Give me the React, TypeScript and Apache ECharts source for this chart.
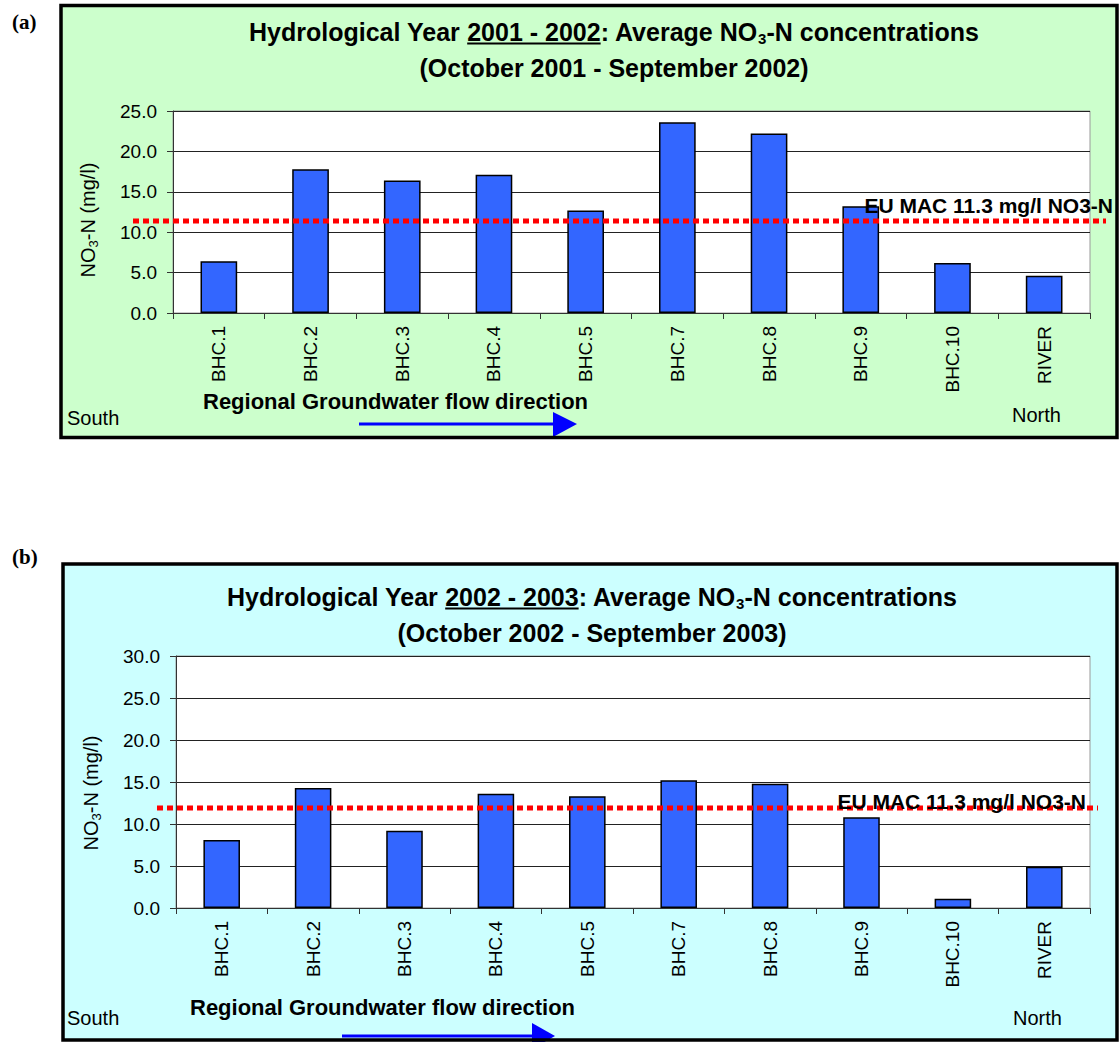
import React, { useEffect, useRef } from "react";
import * as echarts from "echarts";

const categories = ["BHC.1", "BHC.2", "BHC.3", "BHC.4", "BHC.5", "BHC.7", "BHC.8", "BHC.9", "BHC.10", "RIVER"];
const valuesA = [6.4, 17.8, 16.4, 17.1, 12.7, 23.6, 22.2, 13.2, 6.2, 4.6];
const valuesB = [8.1, 14.3, 9.2, 13.6, 13.3, 15.2, 14.8, 10.8, 1.1, 4.9];
const yMaxA = 25;
const yMaxB = 30;
const yInterval = 5;
const macLineA = 11.4;
const macLineB = 11.9;
const macLabel = "EU MAC 11.3 mg/l NO3-N";
const yearA = "2001 - 2002";
const yearB = "2002 - 2003";
const periodA = "(October 2001 - September 2002)";
const periodB = "(October 2002 - September 2003)";

const FONT = "'Liberation Sans', Arial, sans-serif";
const TITLE_SIZE = 25;
const SUB_SIZE = 15;

let measureCtx: CanvasRenderingContext2D | null = null;
function measure(str: string, font: string): number {
  if (!measureCtx) measureCtx = document.createElement("canvas").getContext("2d");
  if (!measureCtx) return str.length * 10;
  measureCtx.font = font;
  return measureCtx.measureText(str).width;
}

function axisPair(gridIndex: number, max: number) {
  const x = {
    type: "category",
    gridIndex,
    data: categories,
    boundaryGap: true,
    axisLine: { lineStyle: { color: "#333", width: 1 } },
    axisTick: { show: true, length: 6, interval: 0, lineStyle: { color: "#333" } },
    axisLabel: {
      rotate: 90,
      interval: 0,
      margin: 13,
      fontSize: 19,
      fontFamily: FONT,
      color: "#000",
    },
    splitLine: { show: false },
  };
  const y = {
    type: "value",
    gridIndex,
    min: 0,
    max,
    interval: yInterval,
    axisLine: { show: true, lineStyle: { color: "#333", width: 1 } },
    axisTick: { show: true, length: 6, inside: false, lineStyle: { color: "#333" } },
    axisLabel: {
      margin: 16,
      fontSize: 19,
      fontFamily: FONT,
      color: "#000",
      formatter: (v: number) => v.toFixed(1),
    },
    splitLine: { show: true, lineStyle: { color: "#222", width: 1 } },
  };
  return { x, y };
}

function text(x: number, y: number, str: string, font: string, align = "left", vAlign = "middle", z = 150) {
  return {
    type: "text",
    z,
    style: {
      text: str,
      x,
      y,
      font,
      fill: "#000",
      textAlign: align,
      textVerticalAlign: vAlign,
      align,
      verticalAlign: vAlign,
    },
  };
}

function yName(cx: number, cy: number) {
  return {
    type: "text",
    z: 150,
    x: cx,
    y: cy,
    rotation: Math.PI / 2,
    style: {
      text: "{m|NO}{s|3}{m|-N (mg/l)}",
      x: 0,
      y: 0,
      textAlign: "center",
      textVerticalAlign: "middle",
      align: "center",
      verticalAlign: "middle",
      rich: {
        m: { fontFamily: FONT, fontSize: 20, color: "#000", lineHeight: 24 },
        s: { fontFamily: FONT, fontSize: 13, color: "#000", lineHeight: 10, verticalAlign: "bottom" },
      },
    },
  };
}

function titleParts(cx: number, y: number, year: string, period: string, periodY: number) {
  const bold = `bold ${TITLE_SIZE}px ${FONT}`;
  const subFont = `bold ${SUB_SIZE}px ${FONT}`;
  const p1 = "Hydrological Year ";
  const p3a = ": Average NO";
  const p3b = "3";
  const p3c = "-N concentrations";
  const w1 = measure(p1, bold);
  const w2 = measure(year, bold);
  const w3 = measure(p3a, bold) + measure(p3b, subFont) + measure(p3c, bold);
  const total = w1 + w2 + w3;
  const start = cx - total / 2;
  const uStart = start + w1;
  const uEnd = uStart + w2;
  return [
    text(start, y, p1, bold, "left"),
    text(uStart, y, year, bold, "left"),
    {
      type: "line",
      z: 150,
      shape: { x1: uStart, y1: y + 11.5, x2: uEnd, y2: y + 11.5 },
      style: { stroke: "#000", lineWidth: 2 },
    },
    {
      type: "text",
      z: 150,
      style: {
        text: `{m|${p3a}}{s|${p3b}}{m|${p3c}}`,
        x: uEnd,
        y,
        textAlign: "left",
        textVerticalAlign: "middle",
        align: "left",
        verticalAlign: "middle",
        rich: {
          m: { fontFamily: FONT, fontWeight: "bold", fontSize: TITLE_SIZE, lineHeight: 28, color: "#000" },
          s: { fontFamily: FONT, fontWeight: "bold", fontSize: SUB_SIZE, lineHeight: 12, color: "#000", verticalAlign: "bottom" },
        },
      },
    },
    text(cx, periodY, period, bold, "center"),
  ];
}

export default function App() {
  const ref = useRef<HTMLDivElement>(null);

  useEffect(() => {
    if (!ref.current) return;
    const chart = echarts.init(ref.current, undefined, { renderer: "svg" });
    const a = axisPair(0, yMaxA);
    const b = axisPair(1, yMaxB);
    const barStyle = { color: "#3366FF", borderColor: "#000", borderWidth: 1.5 };
    chart.setOption({
      animation: false,
      grid: [
        { left: 173, top: 111, width: 917, height: 202, show: true, backgroundColor: "#fff", borderColor: "#999", borderWidth: 1 },
        { left: 176, top: 656, width: 914, height: 252, show: true, backgroundColor: "#fff", borderColor: "#999", borderWidth: 1 },
      ],
      xAxis: [a.x, b.x],
      yAxis: [a.y, b.y],
      series: [
        { type: "bar", xAxisIndex: 0, yAxisIndex: 0, data: valuesA, barWidth: "40%", itemStyle: barStyle },
        { type: "bar", xAxisIndex: 1, yAxisIndex: 1, data: valuesB, barWidth: "40%", itemStyle: barStyle },
      ],
    });

    const yLa = chart.convertToPixel({ yAxisIndex: 0 }, macLineA) as number;
    const yLb = chart.convertToPixel({ yAxisIndex: 1 }, macLineB) as number;

    const boldLabel = `bold 21px ${FONT}`;
    const flowFont = `bold 22px ${FONT}`;
    const reg = `20px ${FONT}`;
    const elements: any[] = [
      { type: "rect", z: -10, shape: { x: 61, y: 5.5, width: 1056, height: 432 }, style: { fill: "#CCFFCC" } },
      { type: "rect", z: -10, shape: { x: 63, y: 564, width: 1054, height: 476 }, style: { fill: "#CCFFFF" } },
      text(12, 22, "(a)", `bold 21px 'Liberation Serif', 'Times New Roman', serif`, "left"),
      text(12, 557, "(b)", `bold 21px 'Liberation Serif', 'Times New Roman', serif`, "left"),
      ...titleParts(614, 32, yearA, periodA, 68),
      ...titleParts(592, 597, yearB, periodB, 633),
      yName(88, 220),
      yName(91, 793),
      { type: "line", z: 120, shape: { x1: 133, y1: yLa, x2: 1106, y2: yLa }, style: { stroke: "#FF0000", lineWidth: 5, lineDash: [6, 4] } },
      { type: "line", z: 120, shape: { x1: 157, y1: yLb, x2: 1098, y2: yLb }, style: { stroke: "#FF0000", lineWidth: 5, lineDash: [6, 4] } },
      text(1113, yLa - 15, macLabel, boldLabel, "right", "middle", 130),
      text(1086, yLb - 7, macLabel, boldLabel, "right", "middle", 130),
      text(67, 418, "South", reg, "left"),
      text(1012, 415, "North", reg, "left"),
      text(67, 1018, "South", reg, "left"),
      text(1013, 1018, "North", reg, "left"),
      text(203, 401, "Regional Groundwater flow direction", flowFont, "left"),
      text(190, 1007, "Regional Groundwater flow direction", flowFont, "left"),
      { type: "line", z: 140, shape: { x1: 359, y1: 424, x2: 556, y2: 424 }, style: { stroke: "#0000FF", lineWidth: 3 } },
      { type: "polygon", z: 140, shape: { points: [[553, 412], [577, 424], [553, 437]] }, style: { fill: "#0000FF" } },
      { type: "line", z: 140, shape: { x1: 342, y1: 1036, x2: 534, y2: 1036 }, style: { stroke: "#0000FF", lineWidth: 3 } },
      { type: "polygon", z: 140, shape: { points: [[532, 1023], [555, 1036], [532, 1049]] }, style: { fill: "#0000FF" } },
      { type: "rect", z: 200, shape: { x: 61, y: 5.5, width: 1056, height: 432 }, style: { fill: "none", stroke: "#000", lineWidth: 3.5 } },
      { type: "rect", z: 200, shape: { x: 63, y: 564, width: 1054, height: 476 }, style: { fill: "none", stroke: "#000", lineWidth: 3.5 } },
    ];
    chart.setOption({ graphic: { elements } });

    return () => chart.dispose();
  }, []);

  return (
    <div
      ref={ref}
      style={{ position: "absolute", left: 0, top: 0, width: 1120, height: 1042, background: "#fff" }}
    />
  );
}
